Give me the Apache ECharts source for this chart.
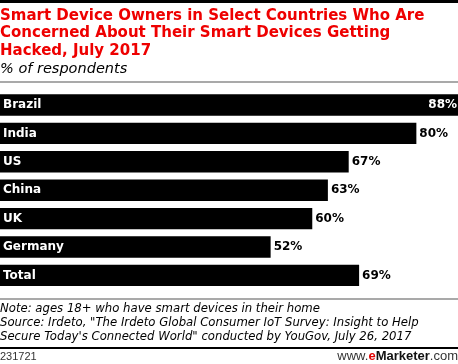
<!DOCTYPE html>
<html><head><meta charset="utf-8">
<script src="https://cdn.jsdelivr.net/npm/echarts@6/dist/echarts.min.js"></script>
<style>html,body{margin:0;padding:0;background:#fff}#c{width:458px;height:364px}</style>
</head><body><div id="c"></div>
<script>
const categories = ["Brazil", "India", "US", "China", "UK", "Germany", "Total"];
const values = [88, 80, 67, 63, 60, 52, 69];
const titleLines = ["Smart Device Owners in Select Countries Who Are", "Concerned About Their Smart Devices Getting", "Hacked, July 2017"];
const subtitle = "% of respondents";
const noteLines = ["Note: ages 18+ who have smart devices in their home", "Source: Irdeto, \"The Irdeto Global Consumer IoT Survey: Insight to Help", "Secure Today's Connected World\" conducted by YouGov, July 26, 2017"];
const chartId = "231721";

const FONT = "DejaVu Sans";
const chart = echarts.init(document.getElementById('c'), null, {renderer: 'canvas'});
const data = values.map((v, i) => i === 0 ? {value: v, label: {position: 'insideRight', color: '#fff', offset: [2, 0]}} : v);
chart.setOption({
  animation: false,
  grid: {left: 0, right: 0, top: 90.8, bottom: 74.4, containLabel: false, outerBoundsMode: 'none'},
  xAxis: {type: 'value', min: 0, max: 88, show: false},
  yAxis: {type: 'category', data: categories, inverse: true,
    axisLine: {show: false}, axisTick: {show: false}, splitLine: {show: false},
    axisLabel: {inside: true, margin: 3, color: '#fff', fontFamily: FONT, fontWeight: 'bold', fontSize: 12, align: 'left'}, z: 5},
  series: [{type: 'bar', data: data, barCategoryGap: '24.6%',
    itemStyle: {color: '#000'},
    label: {show: true, position: 'right', distance: 3, formatter: '{c}%', color: '#000', fontFamily: FONT, fontWeight: 'bold', fontSize: 12}}],
  graphic: [
    {type: 'rect', shape: {x: 0, y: 0, width: 458, height: 3}, style: {fill: '#000'}},
    {type: 'text', left: 0, top: 7, style: {text: titleLines.join('\n'), fill: '#ee0000', font: 'bold 15px "DejaVu Sans"', lineHeight: 17.5}},
    {type: 'text', left: 0, top: 62, style: {text: subtitle, fill: '#000', font: 'italic 14.5px "DejaVu Sans"'}},
    {type: 'rect', shape: {x: 0, y: 81.5, width: 458, height: 1}, style: {fill: '#555'}},
    {type: 'rect', shape: {x: 0, y: 298.5, width: 458, height: 1}, style: {fill: '#555'}},
    {type: 'text', left: 0, top: 302, style: {text: noteLines.join('\n'), fill: '#000', font: 'italic 11.7px "DejaVu Sans"', lineHeight: 14}},
    {type: 'rect', shape: {x: 0, y: 347, width: 458, height: 2}, style: {fill: '#000'}},
    {type: 'text', left: 0, top: 351, style: {text: chartId, fill: '#333', font: '11px "Liberation Sans"'}},
    {type: 'text', right: 0, top: 350, style: {rich: {a: {fill: '#333', font: '13px "Liberation Sans"'}, b: {fill: '#e00000', font: 'bold 13px "Liberation Sans"'}, c: {fill: '#111', font: 'bold 13px "Liberation Sans"'}}, text: '{a|www.}{b|e}{c|Marketer}{a|.com}'}}
  ]
});
</script></body></html>
